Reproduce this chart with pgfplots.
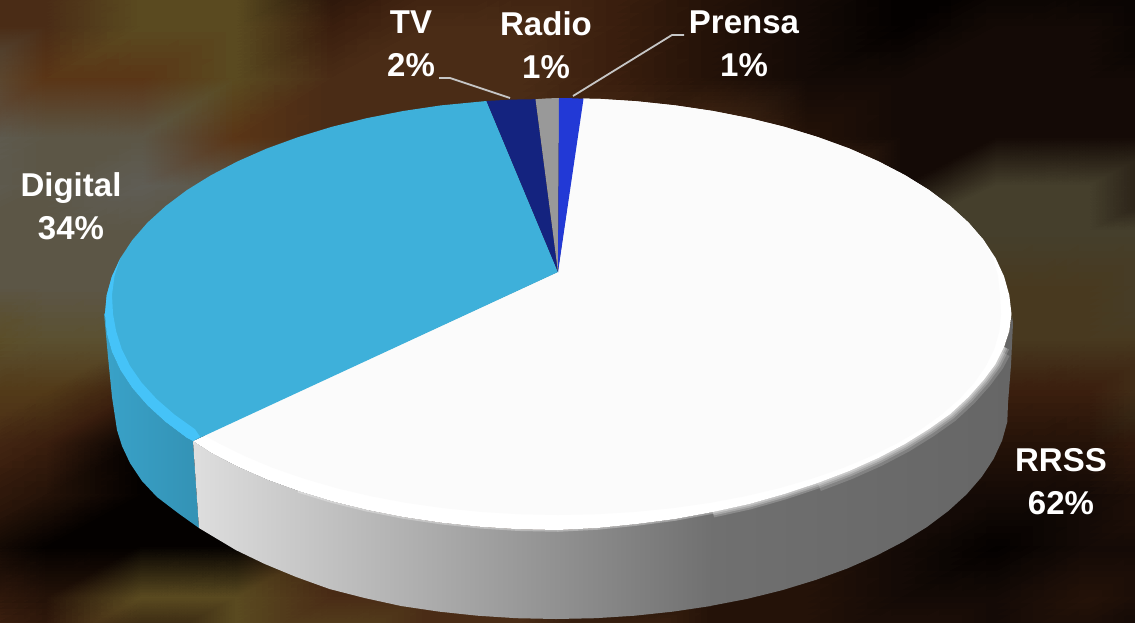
\documentclass[border=0pt]{standalone}
\usepackage{pgfplots}
\pgfplotsset{compat=1.18}
\usepackage{pgfplotstable}
\usepackage{fontspec}
\setmainfont{Liberation Sans}
\definecolor{bK}{HTML}{040100}
\definecolor{bD}{HTML}{140A06}
\definecolor{bE}{HTML}{241208}
\definecolor{bF}{HTML}{3A1E0E}
\definecolor{bG}{HTML}{4A2C16}
\definecolor{bH}{HTML}{5A3516}
\definecolor{bI}{HTML}{523A18}
\definecolor{bO}{HTML}{5A4A20}
\definecolor{bP}{HTML}{5B5030}
\definecolor{bQ}{HTML}{5C5646}
\definecolor{bR}{HTML}{5F5D55}
\definecolor{bS}{HTML}{453F2C}
\definecolor{bT}{HTML}{48391F}
\definecolor{cdig}{HTML}{3EB0DA}
\definecolor{cdigrim}{HTML}{45C3F8}
\definecolor{ctv}{HTML}{14237F}
\definecolor{cradio}{HTML}{999999}
\definecolor{cprensa}{HTML}{2239D6}
\definecolor{cface}{HTML}{FBFBFB}
\pgfplotstableread{
x y
298.2 490.9
331.5 501.1
366.6 509.8
403.1 517
440.8 522.6
479.4 526.7
518.5 529.2
558 530
597.5 528
636.6 524
675.2 519
712.9 512
749.4 504
784.5 494
817.8 483
849.2 471
878.3 458
905 444
929.1 429
950.3 414
968.6 397
983.7 380
995.6 364
1004.1 347
}\rimA
\pgfplotstableread{
x y
712.9 512
749.4 504
784.5 494
817.8 483
849.2 471
878.3 458
905 444
929.1 429
950.3 414
968.6 397
983.7 380
995.6 364
1004.1 347
}\rimB
\pgfplotstableread{
x y
817.8 483
849.2 471
878.3 458
905 444
929.1 429
950.3 414
968.6 397
983.7 380
995.6 364
1002 352
}\rimC
\begin{document}
\begin{tikzpicture}
\begin{axis}[
  scale only axis, width=1135pt, height=622pt,
  xmin=0, xmax=1135, ymin=0, ymax=622, y dir=reverse,
  hide axis, clip=true,
]
% blurred photographic background
\addplot[matrix plot*, shader=interp, mesh/cols=13, mesh/color input=explicit, point meta=explicit symbolic] coordinates {
(0,0)[color=bG] (95,0)[color=bG] (190,0)[color=bO] (285,0)[color=bO] (380,0)[color=bE] (475,0)[color=bF] (570,0)[color=bF] (665,0)[color=bF] (760,0)[color=bE] (855,0)[color=bD] (950,0)[color=bK] (1045,0)[color=bK] (1135,0)[color=bK]
(0,52)[color=bG] (95,52)[color=bG] (190,52)[color=bO] (285,52)[color=bO] (380,52)[color=bF] (475,52)[color=bG] (570,52)[color=bG] (665,52)[color=bF] (760,52)[color=bE] (855,52)[color=bD] (950,52)[color=bK] (1045,52)[color=bD] (1135,52)[color=bD]
(0,104)[color=bQ] (95,104)[color=bH] (190,104)[color=bH] (285,104)[color=bO] (380,104)[color=bG] (475,104)[color=bG] (570,104)[color=bG] (665,104)[color=bF] (760,104)[color=bE] (855,104)[color=bD] (950,104)[color=bD] (1045,104)[color=bD] (1135,104)[color=bD]
(0,170)[color=bR] (95,170)[color=bQ] (190,170)[color=bQ] (285,170)[color=bH] (380,170)[color=bG] (475,170)[color=bG] (570,170)[color=bG] (665,170)[color=bG] (760,170)[color=bG] (855,170)[color=bE] (950,170)[color=bD] (1045,170)[color=bD] (1135,170)[color=bD]
(0,200)[color=bR] (95,200)[color=bQ] (190,200)[color=bR] (285,200)[color=bQ] (380,200)[color=bG] (475,200)[color=bG] (570,200)[color=bG] (665,200)[color=bG] (760,200)[color=bG] (855,200)[color=bG] (950,200)[color=bD] (1045,200)[color=bS] (1135,200)[color=bS]
(0,260)[color=bQ] (95,260)[color=bQ] (190,260)[color=bQ] (285,260)[color=bG] (380,260)[color=bG] (475,260)[color=bG] (570,260)[color=bG] (665,260)[color=bG] (760,260)[color=bG] (855,260)[color=bG] (950,260)[color=bS] (1045,260)[color=bS] (1135,260)[color=bS]
(0,312)[color=bQ] (95,312)[color=bQ] (190,312)[color=bQ] (285,312)[color=bG] (380,312)[color=bG] (475,312)[color=bG] (570,312)[color=bG] (665,312)[color=bG] (760,312)[color=bG] (855,312)[color=bG] (950,312)[color=bT] (1045,312)[color=bT] (1135,312)[color=bT]
(0,364)[color=bO] (95,364)[color=bP] (190,364)[color=bP] (285,364)[color=bG] (380,364)[color=bG] (475,364)[color=bG] (570,364)[color=bG] (665,364)[color=bG] (760,364)[color=bG] (855,364)[color=bG] (950,364)[color=bT] (1045,364)[color=bT] (1135,364)[color=bT]
(0,416)[color=bI] (95,416)[color=bI] (190,416)[color=bF] (285,416)[color=bG] (380,416)[color=bG] (475,416)[color=bG] (570,416)[color=bG] (665,416)[color=bG] (760,416)[color=bG] (855,416)[color=bG] (950,416)[color=bF] (1045,416)[color=bF] (1135,416)[color=bF]
(0,468)[color=bG] (95,468)[color=bF] (190,468)[color=bK] (285,468)[color=bK] (380,468)[color=bK] (475,468)[color=bK] (570,468)[color=bK] (665,468)[color=bK] (760,468)[color=bK] (855,468)[color=bK] (950,468)[color=bE] (1045,468)[color=bE] (1135,468)[color=bE]
(0,520)[color=bF] (95,520)[color=bE] (190,520)[color=bK] (285,520)[color=bK] (380,520)[color=bK] (475,520)[color=bK] (570,520)[color=bK] (665,520)[color=bK] (760,520)[color=bK] (855,520)[color=bD] (950,520)[color=bD] (1045,520)[color=bD] (1135,520)[color=bD]
(0,572)[color=bE] (95,572)[color=bK] (190,572)[color=bK] (285,572)[color=bK] (380,572)[color=bF] (475,572)[color=bF] (570,572)[color=bF] (665,572)[color=bE] (760,572)[color=bE] (855,572)[color=bE] (950,572)[color=bD] (1045,572)[color=bK] (1135,572)[color=bD]
(0,622)[color=bF] (95,622)[color=bE] (190,622)[color=bO] (285,622)[color=bO] (380,622)[color=bG] (475,622)[color=bG] (570,622)[color=bG] (665,622)[color=bE] (760,622)[color=bE] (855,622)[color=bE] (950,622)[color=bD] (1045,622)[color=bD] (1135,622)[color=bE]
};
% side of Digital
\addplot[draw=none, shade, left color=cdig!92!black, right color=cdig!83!black] coordinates {
(105,314) (106.7,332.8) (111.9,351.5) (120.4,369.9) (132.3,387.9) (147.4,405.3) (165.7,422) (186.9,437.9) (193,441)
(199,528) (178,513) (157,497) (142,481) (130,463) (122,446) (117,430) (112,397) (108,357) (104,313)};
% side of RRSS, left part
\addplot[draw=none, shade, left color={rgb,255:red,222;green,222;blue,222}, right color={rgb,255:red,112;green,112;blue,112}] coordinates {
(193,441) (211,452.8) (237.7,466.7) (266.8,479.5) (298.2,490.9) (331.5,501.1) (366.6,509.8) (403.1,517) (440.8,522.6) (479.4,526.7) (518.5,529.2) (558,530)
(597.5,528) (636.6,524) (675.2,519) (712.9,512)
(710.9,606) (673.2,611.6) (634.6,615.7) (595.5,618.2) (556,619) (516.5,618.2) (477.4,615.7) (438.8,611.6) (401.1,606) (364.6,598) (329.5,589) (296.2,577) (264.8,564) (235.7,550) (209,534) (199,528)};
% side of RRSS, right part
\addplot[draw=none, shade, left color={rgb,255:red,112;green,112;blue,112}, right color={rgb,255:red,102;green,102;blue,102}] coordinates {
(712,512) (749.4,504) (784.5,494) (817.8,483) (849.2,471) (878.3,458) (905,444) (929.1,429) (950.3,414) (968.6,397) (983.7,380) (995.6,364) (1004.1,347) (1009.3,331) (1012,316)
(1013,323) (1011,365) (1008,403) (1007.3,421.8) (1002.1,440.5) (993.6,458.9) (981.7,476.9) (966.6,494.3) (948.3,511) (927.1,526.9) (903,541.8) (876.3,555.7) (847.2,568.5) (815.8,579.9) (782.5,590.1) (747.4,598.8) (710,606)};
% soft edge of the rim
\addplot[white, opacity=.16, line width=17pt] table {\rimC};
\addplot[white, opacity=.2, line width=11pt] table {\rimB};
\addplot[white, opacity=.25, line width=7pt] table {\rimB};
\addplot[white, opacity=.3, line width=3.5pt] table {\rimA};
% RRSS face (bright rim)
\addplot[draw=none, fill=white] coordinates {
(558,272) (583,98.7) (597.5,98.8) (636.6,101.3) (675.2,105.4) (712.9,111) (749.4,118.2) (784.5,126.9) (817.8,137.1) (849.2,148.5) (878.3,161.3) (905,175.2) (929.1,190.1) (950.3,206) (968.6,222.7) (983.7,240.1) (995.6,258.1) (1004.1,276.5) (1009.3,295.2) (1011.5,314)
(1009.3,331) (1004.1,347) (995.6,364) (983.7,380) (968.6,397) (950.3,414) (929.1,429) (905,444) (878.3,458) (849.2,471) (817.8,483) (784.5,494) (749.4,504) (712.9,512) (675.2,519) (636.6,524) (597.5,528) (558,530)
(518.5,529.2) (479.4,526.7) (440.8,522.6) (403.1,517) (366.6,509.8) (331.5,501.1) (298.2,490.9) (266.8,479.5) (237.7,466.7) (211,452.8) (193,441)};
% RRSS face (inner)
\addplot[draw=none, fill=cface] coordinates {
(558,272) (583,98.7) (597.5,98.8) (636.6,101.3) (675.2,105.4) (712.9,111) (749.4,118.2) (784.5,126.9) (817.8,137.1) (849.2,148.5) (878.3,161.3) (905,175.2) (929.1,190.1) (950.3,206) (968.6,222.7) (983.7,240.1) (993,258) (998,276) (1000,295) (1001,314)
(999.3,331.5) (994.3,348.9) (985.9,366) (974.3,382.7) (959.5,398.9) (941.6,414.5) (920.9,429.3) (897.4,443.2) (871.2,456.1) (842.8,468) (812.1,478.6) (779.5,488.1) (745.2,496.2) (709.5,502.9) (672.7,508.1) (634.9,511.9) (596.6,514.2) (558,515)
(519.4,514.2) (481.1,511.9) (443.3,508.1) (406.5,502.9) (370.8,496.2) (336.5,488.1) (303.9,478.6) (273.2,468) (244.8,456.1) (218.6,443.2) (204,435)};
% Digital face
\addplot[draw=none, fill=cdig] coordinates {
(558,272) (486.5,101) (440.8,105.4) (403.1,111) (366.6,118.2) (331.5,126.9) (298.2,137.1) (266.8,148.5) (237.7,161.3) (211,175.2) (186.9,190.1) (165.7,206) (147.4,222.7) (132.3,240.1) (120.4,258.1) (111.9,276.5) (106.7,295.2) (105,314)
(106.7,332.8) (111.9,351.5) (120.4,369.9) (132.3,387.9) (147.4,405.3) (165.7,422) (186.9,437.9) (193,441)};
% Digital bright rim
\addplot[draw=none, fill=cdigrim] coordinates {
(120.4,258.1) (111.9,276.5) (106.7,295.2) (105,314) (106.7,332.8) (111.9,351.5) (120.4,369.9) (132.3,387.9) (147.4,405.3) (165.7,422) (186.9,437.9) (193,441) (200,436.7)
(195.1,429.3) (174.4,414.5) (156.5,398.9) (141.7,382.7) (130.1,366) (121.7,348.9) (116.2,331.5) (113,314) (112,295) (114.5,276)};
% TV, Radio, Prensa faces
\addplot[draw=none, fill=ctv] coordinates {(558,272) (535.5,99.2) (511,99.6) (486.5,101)};
\addplot[draw=none, fill=cradio] coordinates {(558,272) (559,98) (547,98.4) (535.5,99.2)};
\addplot[draw=none, fill=cprensa] coordinates {(558,272) (583.5,98.7) (571,98.2) (559,98)};
% leader lines
\addplot[color=gray!45!white, line width=1.8pt] coordinates {(439,78) (450,78) (510,98)};
\addplot[color=gray!45!white, line width=1.8pt] coordinates {(684,35) (672,35) (573,96)};
% labels
\def\lab#1#2#3{\node[white, align=center, font=\fontsize{33}{43}\selectfont\bfseries, inner sep=0pt] at (axis cs:#1,#2) {#3};}
\lab{411}{44}{TV\\2\%}
\lab{546}{45}{Radio\\1\%}
\lab{744}{44}{Prensa\\1\%}
\lab{71}{206}{Digital\\34\%}
\lab{1061}{482}{RRSS\\62\%}
\end{axis}
\end{tikzpicture}
\end{document}
